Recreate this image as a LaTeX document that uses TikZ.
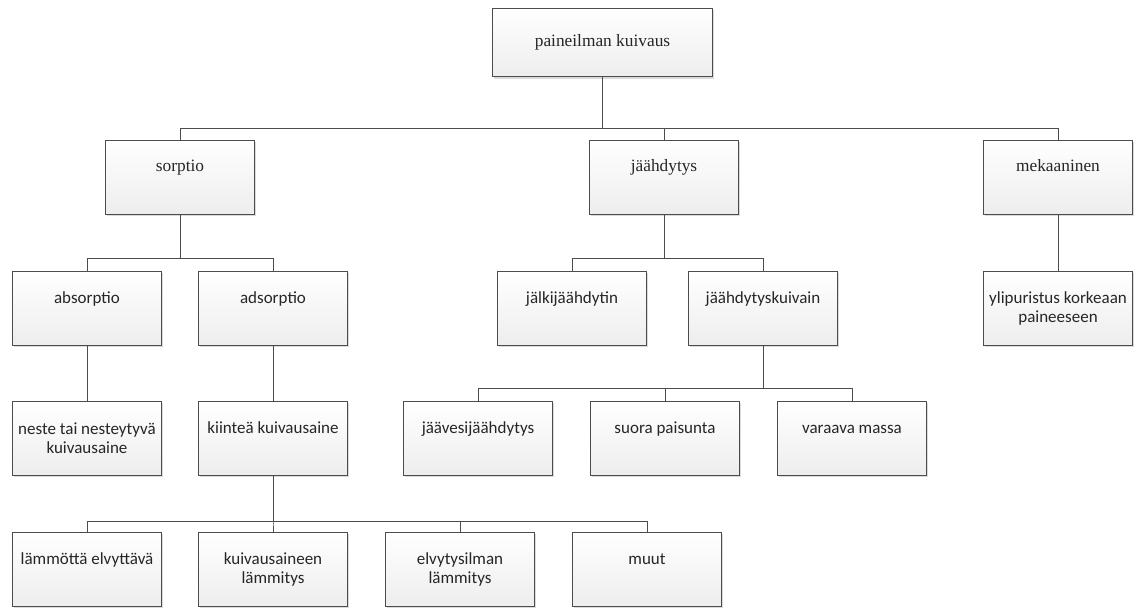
\documentclass[tikz,border=0pt]{standalone}
\usepackage{fontspec}
\setmainfont{Carlito}
\newfontfamily\headfont{Liberation Serif}
\usetikzlibrary{shadows}
\tikzstyle{box}=[draw=black!70, line width=0.75pt, inner sep=1pt, align=center,
  minimum width=112pt, minimum height=55.5pt, top color=white, bottom color=black!7,
  general shadow={shadow xshift=1.3pt, shadow yshift=-1.3pt, fill=black!14},
  text=black!85, font=\fontsize{12.75}{14.5}\selectfont]
\tikzstyle{headbox}=[box, font=\headfont\fontsize{13}{15}\selectfont]
\tikzstyle{oneline}=[text height=9pt, text depth=17pt]
\tikzstyle{link}=[draw=black!70, line width=0.75pt]

\begin{document}
\begin{tikzpicture}[x=0.75pt, y=-0.75pt]
        \useasboundingbox (0,0) rectangle (1134,608);
        % top level
        \node[headbox, minimum width=165pt, minimum height=51.5pt] (kuivaus) at (602.5, 42.5) {paineilman kuivaus};
        \node[headbox, oneline] (sorptio) at (180, 177) {sorptio};
        \node[headbox, oneline] (jaahdytys) at (664, 177) {jäähdytys};
        \node[headbox, oneline] (mekaaninen) at (1058, 177) {mekaaninen};
        % second level
        \node[box, oneline] (absorptio) at (87, 308.5) {absorptio};
        \node[box, oneline] (adsorptio) at (273, 308.5) {adsorptio};
        \node[box, oneline] (jalki) at (572, 308.5) {jälkijäähdytin};
        \node[box, oneline] (jkuivain) at (763, 308.5) {jäähdytyskuivain};
        \node[box] (ylipuristus) at (1058, 308.5) {ylipuristus korkeaan\\paineeseen};
        % third level
        \node[box] (neste) at (87, 438.5) {neste tai nesteytyvä\\kuivausaine};
        \node[box, oneline] (kiintea) at (273, 438.5) {kiinteä kuivausaine};
        \node[box, oneline] (jaavesi) at (478, 438.5) {jäävesijäähdytys};
        \node[box, oneline] (suora) at (665, 438.5) {suora paisunta};
        \node[box, oneline] (varaava) at (852, 438.5) {varaava massa};
        % fourth level
        \node[box, oneline] (lammotta) at (87, 569.5) {lämmöttä elvyttävä};
        \node[box] (kuivlammitys) at (273, 569.5) {kuivausaineen\\lämmitys};
        \node[box] (elvlammitys) at (460, 569.5) {elvytysilman\\lämmitys};
        \node[box, oneline] (muut) at (647, 569.5) {muut};
        % hubs
        \coordinate (hubA) at (0, 128);
        \coordinate (hubB) at (0, 258.5);
        \coordinate (hubC) at (0, 388);
        \coordinate (hubD) at (0, 521);
        % connectors
        \foreach \child in {sorptio, jaahdytys, mekaaninen}
            \draw[link] (kuivaus.south) |- (\child.north |- hubA) -- (\child.north);
        \foreach \child in {absorptio, adsorptio}
            \draw[link] (sorptio.south) |- (\child.north |- hubB) -- (\child.north);
        \foreach \child in {jalki, jkuivain}
            \draw[link] (jaahdytys.south) |- (\child.north |- hubB) -- (\child.north);
        \foreach \child in {jaavesi, suora, varaava}
            \draw[link] (jkuivain.south) |- (\child.north |- hubC) -- (\child.north);
        \foreach \child in {lammotta, kuivlammitys, elvlammitys, muut}
            \draw[link] (kiintea.south) |- (\child.north |- hubD) -- (\child.north);
        \draw[link] (mekaaninen.south) -- (ylipuristus.north);
        \draw[link] (absorptio.south) -- (neste.north);
        \draw[link] (adsorptio.south) -- (kiintea.north);
    \end{tikzpicture}
\end{document}
